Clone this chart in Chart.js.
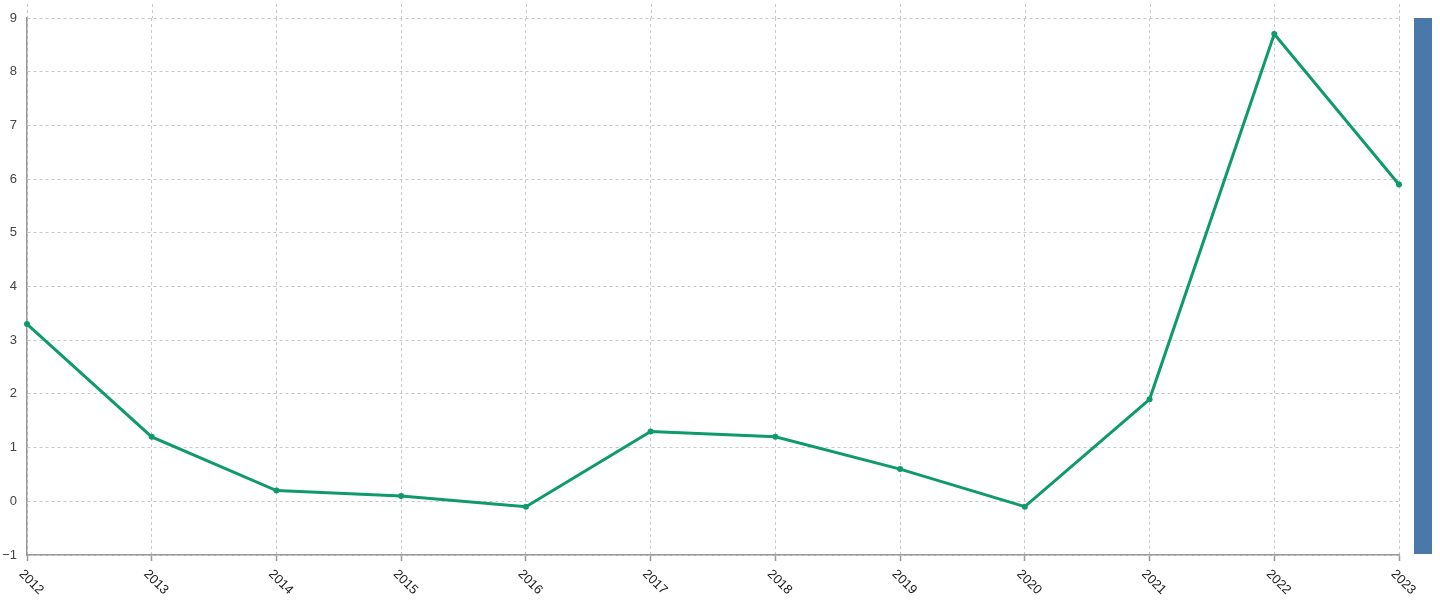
<!DOCTYPE html>
<html>
<head>
<meta charset="utf-8">
<script src="https://cdn.jsdelivr.net/npm/chart.js@4.4.1/dist/chart.umd.min.js"></script>
<style>
  body { margin: 0; background: #fff; }
  #wrap { position: relative; width: 1440px; height: 604px; }
  #side-bar { position: absolute; left: 1414px; top: 18px; width: 18px; height: 536px; background: #4a78a8; }
</style>
</head>
<body>
<div id="wrap">
  <canvas id="chart" width="1440" height="604"></canvas>
  <div id="side-bar"></div>
</div>
<script>
// chart data
const years = ['2012', '2013', '2014', '2015', '2016', '2017', '2018', '2019', '2020', '2021', '2022', '2023'];
const values = [3.3, 1.2, 0.2, 0.1, -0.1, 1.3, 1.2, 0.6, -0.1, 1.9, 8.7, 5.9];
const yMin = -1;
const yMax = 9;

const lineColor = '#0f9a6c';

// draws the rotated year labels and the grid stubs above the plot
const extraPlugin = {
  id: 'extra',
  afterDraw(chart) {
    const { ctx, chartArea, scales } = chart;
    const xs = scales.x;
    ctx.save();
    // vertical grid continues above the plot area
    ctx.strokeStyle = '#c8c8c8';
    ctx.lineWidth = 1;
    ctx.setLineDash([3, 3]);
    xs.ticks.forEach((t, i) => {
      const x = Math.round(xs.getPixelForTick(i)) + 0.5;
      ctx.beginPath();
      ctx.moveTo(x, 4);
      ctx.lineTo(x, chartArea.top);
      ctx.stroke();
    });
    ctx.setLineDash([]);
    // year labels, turned 45 degrees clockwise
    ctx.fillStyle = '#222';
    ctx.font = '13px "Liberation Sans", Arial, sans-serif';
    ctx.textAlign = 'left';
    ctx.textBaseline = 'middle';
    xs.ticks.forEach((t, i) => {
      const x = xs.getPixelForTick(i);
      ctx.save();
      ctx.translate(x - 6, chartArea.bottom + 17);
      ctx.rotate(Math.PI / 4);
      ctx.fillText(years[i], 0, 0);
      ctx.restore();
    });
    ctx.restore();
  }
};

const ctx = document.getElementById('chart').getContext('2d');
new Chart(ctx, {
  type: 'line',
  data: {
    labels: years,
    datasets: [{
      data: values,
      borderColor: lineColor,
      backgroundColor: lineColor,
      borderWidth: 3,
      pointRadius: 3,
      pointBorderWidth: 0,
      tension: 0,
      fill: false,
      clip: false
    }]
  },
  options: {
    responsive: false,
    animation: false,
    layout: { padding: { top: 18, right: 41, left: 0, bottom: 0 } },
    plugins: {
      legend: { display: false },
      tooltip: { enabled: false }
    },
    scales: {
      x: {
        offset: false,
        afterFit: s => { s.height = 49; },
        border: { color: '#999', width: 1.5, dash: [3, 3] },
        grid: {
          offset: false,
          color: '#c8c8c8',
          lineWidth: 1,
          drawTicks: true,
          tickLength: 6,
          tickColor: '#999',
          tickWidth: 1.5,
          tickBorderDash: []
        },
        ticks: { display: false }
      },
      y: {
        min: yMin,
        max: yMax,
        afterFit: s => { s.width = 27; },
        border: { color: '#999', width: 1.5, dash: [3, 3] },
        grid: {
          color: '#c8c8c8',
          lineWidth: 1,
          drawTicks: false
        },
        ticks: {
          stepSize: 1,
          padding: 10,
          color: '#444',
          font: { family: '"Liberation Sans", Arial, sans-serif', size: 13 },
          callback: v => (v < 0 ? '\u2212' + Math.abs(v) : String(v))
        }
      }
    }
  },
  plugins: [extraPlugin]
});
</script>
</body>
</html>
